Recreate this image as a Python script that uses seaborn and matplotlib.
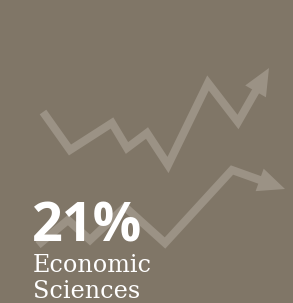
import numpy as np
import matplotlib
matplotlib.use("Agg")
import matplotlib.pyplot as plt
import pandas as pd
import seaborn as sns

# tile values
share_label = "21%"
field_lines = ["Economic", "Sciences"]

# decorative zig-zag trends (pixel space, y grows downward)
upper_x = [43, 70, 112, 127, 147, 168, 208, 238]
upper_y = [112, 150, 123, 148, 133, 165, 83, 122]
upper_tip = (269, 68)

lower_x = [38, 68, 90, 125, 165, 232]
lower_y = [245, 220, 240, 207, 243, 170]
lower_tip = (285, 189)

bg = "#807667"
line_col = "#9b9285"
head_px = 27  # arrow head length in pixels

sns.set_theme(style="white")

fig = plt.figure(figsize=(2.93, 3.03), dpi=100)
fig.patch.set_facecolor(bg)
ax = fig.add_axes([0, 0, 1, 1])
ax.set_facecolor(bg)

for xs, ys, tip in [(upper_x, upper_y, upper_tip), (lower_x, lower_y, lower_tip)]:
    # shaft stops a bit inside the head so the tip stays sharp
    d = np.array(tip, float) - np.array([xs[-1], ys[-1]], float)
    d = d / np.linalg.norm(d)
    base = np.array(tip, float) - d * head_px * 0.8
    df = pd.DataFrame({"x": xs + [base[0]], "y": ys + [base[1]]})
    sns.lineplot(data=df, x="x", y="y", sort=False, ax=ax, color=line_col,
                 lw=5.8, solid_joinstyle="miter", solid_capstyle="butt", zorder=1)
    ax.annotate("", xy=tip, xytext=(xs[-1], ys[-1]),
                arrowprops=dict(arrowstyle="-|>,head_length=1.94,head_width=0.86",
                                facecolor=line_col, edgecolor="none", lw=0,
                                shrinkA=0, shrinkB=0, mutation_scale=10),
                zorder=1)

ax.set_xlim(0, 293)
ax.set_ylim(303, 0)
ax.axis("off")

ax.text(32, 241, share_label, color="white", fontsize=39, fontweight="bold",
        family="Open Sans", va="baseline", ha="left", zorder=3)
ax.text(33, 272, field_lines[0], color="white", fontsize=17.2,
        family="DejaVu Serif", va="baseline", ha="left", zorder=3)
ax.text(33, 298, field_lines[1], color="white", fontsize=17.2,
        family="DejaVu Serif", va="baseline", ha="left", zorder=3)

fig.savefig("out.png", dpi=100, facecolor=bg)
